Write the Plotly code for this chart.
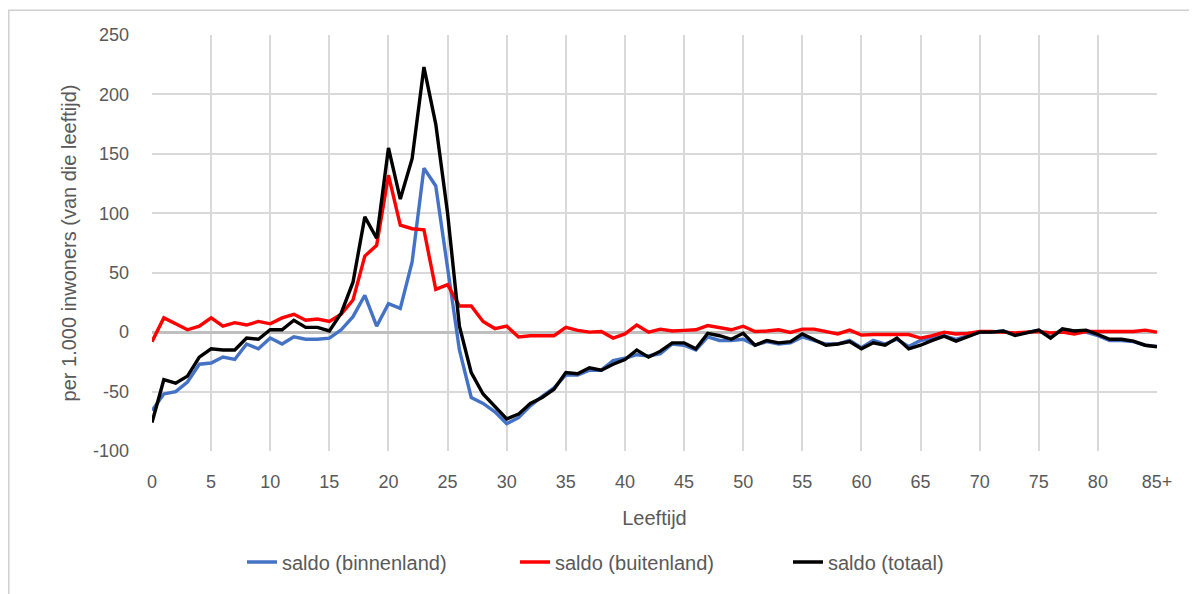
import plotly.graph_objects as go

ages = list(range(0, 86))
tick_vals = list(range(0, 86, 5))
tick_text = [str(v) for v in range(0, 85, 5)] + ["85+"]
y_tick_vals = list(range(-100, 251, 50))
y_tick_text = [str(v) for v in y_tick_vals]

binnenland = [
    -66, -52, -50, -42, -27, -26, -21, -23, -10, -14,
    -5, -10, -4, -6, -6, -5, 2, 13, 31, 5,
    24, 20, 59, 138, 123, 55, -15, -55, -60, -67,
    -77, -72, -62, -54, -47, -36, -36, -32, -32, -24,
    -22, -19, -20, -18, -10, -11, -15, -4, -7, -7,
    -6, -11, -8, -10, -9, -4, -7, -10, -10, -7,
    -13, -7, -10, -6, -12, -7, -5, -3, -6, -3,
    0, 0, 1, -2, 0, 1.5, -4, 2, 1, 0,
    -3, -7, -7, -8, -11, -12,
]
buitenland = [
    -8, 12, 7, 2, 5, 12, 5, 8, 6, 9,
    7, 12, 15, 10, 11, 9, 15, 27, 64, 73,
    132, 90, 87, 86, 36, 40, 22, 22, 9, 3,
    5, -4, -3, -3, -3, 4, 1.5, 0, 0.5, -5,
    -1.5, 6, 0, 2.5, 1, 1.5, 2, 5.5, 4, 2,
    5, 0.5, 1, 2, -0.3, 2.5, 2.5, 0.5, -1.5, 1.7,
    -2.5, -2, -2, -1.5, -2, -5, -3, 0, -1.5, -1,
    0.5, 0.5, 0, -0.6, 0, 0.5, -0.6, 0, -1.5, 0.5,
    0.5, 0.5, 1, 0.5, 1.7, 0,
]
totaal = [
    -76, -40, -43, -37, -21, -14, -15, -15, -5, -6,
    2, 2, 10, 4, 4, 1, 16, 42, 97, 79,
    155, 112, 146, 223, 175, 100, 5, -34, -52, -63,
    -73, -69, -60, -55, -48, -34, -35, -30, -32, -27,
    -23, -15, -21, -16, -9, -9, -14, -1, -3, -6,
    -1, -11, -7, -9, -8, -1.5, -6, -11, -10, -8,
    -14, -9, -11, -5, -14, -11, -7, -3.4, -7.5, -3.4,
    0, 0, 1, -2.8, -0.6, 1.7, -5, 2.8, 1, 1.7,
    -2, -6, -6, -7.5, -11, -12.3,
]

series = [
    ("saldo (binnenland)", binnenland, "#4472C4"),
    ("saldo (buitenland)", buitenland, "#FF0000"),
    ("saldo (totaal)", totaal, "#000000"),
]

FONT = "Liberation Sans"
GRAY = "#595959"

fig = go.Figure()
for name, vals, color in series:
    fig.add_trace(go.Scatter(
        x=ages, y=vals, mode="lines", name=name,
        line=dict(color=color, width=3.4),
    ))

fig.update_layout(
    width=1189, height=586,
    paper_bgcolor="white", plot_bgcolor="white",
    margin=dict(l=144, r=40, t=27, b=134),
    font=dict(family=FONT, size=18, color=GRAY),
    showlegend=True,
    legend=dict(
        orientation="h", x=0.497, xanchor="center", y=-0.267, yanchor="middle",
        font=dict(family=FONT, size=20, color=GRAY),
        traceorder="normal", entrywidth=228, entrywidthmode="pixels",
    ),
    xaxis=dict(
        range=[0, 85], tickmode="array", tickvals=tick_vals, ticktext=tick_text,
        showgrid=True, gridcolor="#d9d9d9", gridwidth=1.5,
        zeroline=False, showline=False, ticks="", ticklabelstandoff=18,
        title=dict(text="Leeftijd", font=dict(family=FONT, size=20, color=GRAY), standoff=19),
        tickfont=dict(family=FONT, size=18, color=GRAY),
    ),
    yaxis=dict(
        range=[-100, 250], tickmode="array", tickvals=y_tick_vals, ticktext=y_tick_text,
        showgrid=True, gridcolor="#d9d9d9", gridwidth=1.5,
        zeroline=True, zerolinecolor="#bfbfbf", zerolinewidth=3,
        showline=False, ticks="", ticklabelstandoff=22,
        title=dict(text="per 1.000 inwoners (van die leeftijd)",
                   font=dict(family=FONT, size=20, color=GRAY), standoff=10),
        tickfont=dict(family=FONT, size=18, color=GRAY),
    ),
)

# outer chart frame
fig.add_shape(type="rect", xref="paper", yref="paper",
              x0=-0.1425, x1=1.06, y0=-0.5, y1=1.0597,
              line=dict(color="#d0d0d0", width=1.5), fillcolor="rgba(0,0,0,0)", layer="below")

fig.write_html("out.html")
